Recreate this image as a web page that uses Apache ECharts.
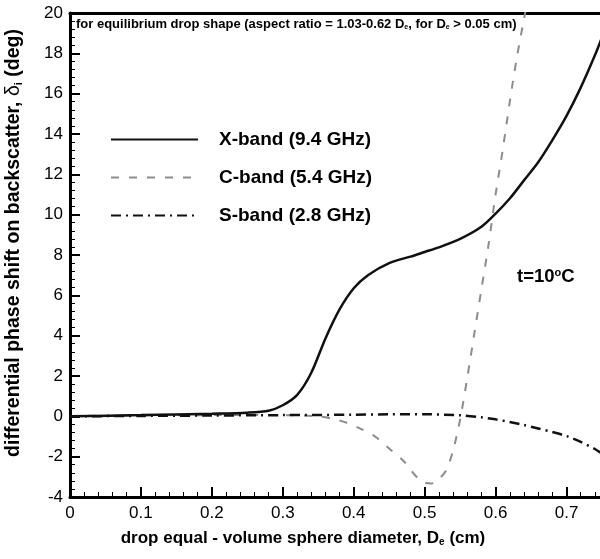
<!DOCTYPE html>
<html>
<head>
<meta charset="utf-8">
<script src="https://cdn.jsdelivr.net/npm/echarts@6/dist/echarts.min.js"></script>
<style>
  html, body { margin: 0; padding: 0; background: #fff; }
  #chart { width: 600px; height: 559px; }
</style>
</head>
<body>
<div id="chart"></div>
<script type="text/javascript">
  // drop diameter (cm) and differential phase shift (deg) for each band
  var xDia = [0, 0.1, 0.2, 0.25, 0.28, 0.30, 0.32, 0.34, 0.36, 0.38, 0.40, 0.42, 0.45, 0.48, 0.50, 0.52, 0.55, 0.58, 0.60, 0.62, 0.64, 0.66, 0.68, 0.70, 0.72, 0.74, 0.75];
  var xBand = [0, 0.06, 0.13, 0.18, 0.28, 0.55, 1.05, 2.15, 3.85, 5.3, 6.35, 7.0, 7.6, 7.92, 8.15, 8.38, 8.8, 9.4, 10.05, 10.8, 11.7, 12.6, 13.7, 14.9, 16.3, 17.9, 18.8];

  var cDia = [0, 0.1, 0.2, 0.3, 0.35, 0.37, 0.39, 0.41, 0.43, 0.45, 0.47, 0.48, 0.49, 0.50, 0.51, 0.52, 0.53, 0.54, 0.55, 0.56, 0.57, 0.58, 0.59, 0.60, 0.61, 0.62, 0.63, 0.64, 0.65];
  var cBand = [0.02, 0.04, 0.06, 0.06, 0.0, -0.12, -0.32, -0.62, -1.0, -1.6, -2.2, -2.65, -3.05, -3.3, -3.33, -3.1, -2.7, -1.7, -0.15, 1.9, 4.1, 6.3, 8.5, 11.0, 13.2, 15.6, 17.8, 19.7, 21.5];

  var sDia = [0, 0.1, 0.2, 0.3, 0.4, 0.45, 0.5, 0.55, 0.58, 0.60, 0.62, 0.64, 0.66, 0.68, 0.70, 0.72, 0.74, 0.75];
  var sBand = [0, 0.02, 0.04, 0.06, 0.08, 0.1, 0.1, 0.05, -0.05, -0.15, -0.28, -0.43, -0.6, -0.78, -0.98, -1.27, -1.62, -1.85];

  var bandNames = ['X-band (9.4 GHz)', 'C-band (5.4 GHz)', 'S-band (2.8 GHz)'];

  function pairs(xs, ys) {
    var out = [];
    for (var i = 0; i < xs.length; i++) {
      out.push([xs[i], ys[i]]);
    }
    return out;
  }

  var FONT = '"Liberation Sans", Arial, Helvetica, sans-serif';

  var chart = echarts.init(document.getElementById('chart'), null, {
    renderer: 'canvas'
  });

  chart.setOption({
    animation: false,
    backgroundColor: '#fff',
    textStyle: { fontFamily: FONT, color: '#000' },
    grid: {
      left: 70,
      right: -2,
      top: 13,
      bottom: 62,
      containLabel: false,
      outerBoundsMode: 'none'
    },
    legend: {
      orient: 'vertical',
      left: 110,
      top: 130,
      padding: 0,
      itemWidth: 87,
      itemHeight: 14,
      itemGap: 19,
      data: bandNames,
      itemStyle: { opacity: 0 },
      textStyle: {
        fontFamily: FONT,
        fontSize: 19,
        fontWeight: 'bold',
        color: '#000',
        padding: [0, 0, 0, 16]
      }
    },
    xAxis: [{
      type: 'value',
      min: 0,
      max: 0.75,
      interval: 0.1,
      name: 'drop equal - volume sphere diameter, {b|D}{sub|e} (cm)',
      nameLocation: 'middle',
      nameGap: 33,
      nameTextStyle: {
        fontFamily: FONT,
        fontSize: 17,
        fontWeight: 'bold',
        color: '#000',
        padding: [0, 66, 0, 0],
        rich: {
          b: { fontFamily: FONT, fontSize: 17, fontWeight: 'bold', color: '#000' },
          sub: { fontFamily: FONT, fontSize: 10, fontWeight: 'bold', color: '#000', verticalAlign: 'bottom', lineHeight: 10 }
        }
      },
      axisLine: { show: true, onZero: false, lineStyle: { color: '#000', width: 3 } },
      axisTick: { show: true, inside: true, length: 10, lineStyle: { color: '#000', width: 2 } },
      minorTick: { show: true, splitNumber: 5, length: 5, lineStyle: { color: '#000', width: 1 } },
      splitLine: { show: false },
      axisLabel: {
        fontFamily: FONT,
        fontSize: 17,
        color: '#000',
        margin: 8,
        showMaxLabel: false,
        formatter: function (v) { return String(Math.round(v * 10) / 10); }
      }
    }, {
      type: 'value',
      position: 'top',
      min: 0,
      max: 0.75,
      interval: 0.1,
      axisLine: { show: true, onZero: false, lineStyle: { color: '#000', width: 3 } },
      axisTick: { show: false },
      axisLabel: { show: false },
      splitLine: { show: false }
    }],
    yAxis: {
      type: 'value',
      min: -4,
      max: 20,
      interval: 2,
      name: 'differential phase shift on backscatter, {d|δ}{sub|i} (deg)',
      nameLocation: 'middle',
      nameGap: 46,
      nameRotate: 90,
      nameTextStyle: {
        fontFamily: FONT,
        fontSize: 19.5,
        fontWeight: 'bold',
        color: '#000',
        padding: [0, 0, 0, 24],
        rich: {
          d: { fontFamily: FONT, fontSize: 19.5, fontWeight: 'normal', color: '#000' },
          sub: { fontFamily: FONT, fontSize: 11, color: '#000', verticalAlign: 'bottom', lineHeight: 11 }
        }
      },
      axisLine: { show: true, onZero: false, lineStyle: { color: '#000', width: 3 } },
      axisTick: { show: true, inside: true, length: 10, lineStyle: { color: '#000', width: 2 } },
      minorTick: { show: true, splitNumber: 5, length: 5, lineStyle: { color: '#000', width: 1 } },
      splitLine: { show: false },
      axisLabel: { fontFamily: FONT, fontSize: 17, color: '#000', margin: 7 }
    },
    graphic: [{
      type: 'text',
      left: 76,
      top: 18,
      style: {
        text: 'for equilibrium drop shape (aspect ratio = 1.03-0.62 D{sub|e}, for D{sub|e} > 0.05 cm)',
        font: 'bold 13px ' + FONT,
        fill: '#000',
        rich: {
          sub: { fontSize: 7, fontWeight: 'bold', fontFamily: FONT, verticalAlign: 'bottom', lineHeight: 7 }
        }
      }
    }, {
      type: 'text',
      left: 517,
      top: 267,
      style: {
        text: 't=10{sup|o}C',
        font: 'bold 18.5px ' + FONT,
        fill: '#000',
        rich: {
          sup: { fontSize: 11, fontWeight: 'bold', fontFamily: FONT, verticalAlign: 'top', lineHeight: 11 }
        }
      }
    }],
    series: [{
      name: bandNames[0],
      type: 'line',
      data: pairs(xDia, xBand),
      showSymbol: false,
      symbol: 'none',
      smooth: 0.3,
      clip: true,
      lineStyle: { color: '#111', width: 2.5, type: 'solid' },
      itemStyle: { color: '#111' },
      z: 3
    }, {
      name: bandNames[1],
      type: 'line',
      data: pairs(cDia, cBand),
      showSymbol: false,
      symbol: 'none',
      smooth: 0.3,
      clip: true,
      lineStyle: { color: '#8c8c8c', width: 2, type: [8, 10] },
      itemStyle: { color: '#8c8c8c' },
      z: 2
    }, {
      name: bandNames[2],
      type: 'line',
      data: pairs(sDia, sBand),
      showSymbol: false,
      symbol: 'none',
      smooth: 0.3,
      clip: true,
      lineStyle: { color: '#111', width: 2.5, type: [10, 5, 2, 5] },
      itemStyle: { color: '#111' },
      z: 2
    }]
  });
</script>
</body>
</html>
